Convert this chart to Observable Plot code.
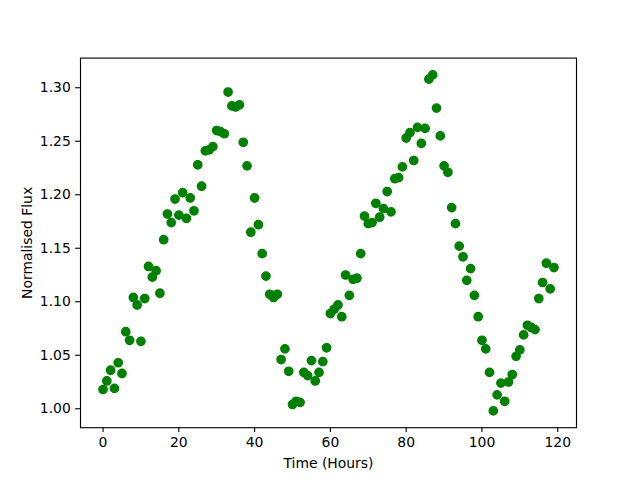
<!DOCTYPE html>
<html>
<head>
<meta charset="utf-8">
<script src="https://cdn.jsdelivr.net/npm/d3@7"></script>
<script src="https://cdn.jsdelivr.net/npm/@observablehq/plot@0.6"></script>
<style>
  html, body { margin: 0; padding: 0; background: white; }
  svg { display: block; }
</style>
</head>
<body>
<div id="chart"></div>
<script>
// Normalised flux, one reading per hour starting at hour 0
const flux = [
  1.018, 1.026, 1.036, 1.019, 1.043, 1.033, 1.072, 1.064, 1.104, 1.097,
  1.063, 1.103, 1.133, 1.123, 1.129, 1.108, 1.158, 1.182, 1.174, 1.196,
  1.181, 1.202, 1.178, 1.197, 1.185, 1.228, 1.208, 1.241, 1.242, 1.245,
  1.260, 1.259, 1.257, 1.296, 1.283, 1.282, 1.284, 1.249, 1.227, 1.165,
  1.197, 1.172, 1.145, 1.124, 1.107, 1.104, 1.107, 1.046, 1.056, 1.035,
  1.004, 1.007, 1.006, 1.034, 1.031, 1.045, 1.026, 1.034, 1.044, 1.057,
  1.089, 1.093, 1.097, 1.086, 1.125, 1.106, 1.121, 1.122, 1.145, 1.180,
  1.173, 1.174, 1.192, 1.179, 1.187, 1.203, 1.184, 1.215, 1.216, 1.226,
  1.253, 1.258, 1.232, 1.263, 1.248, 1.262, 1.308, 1.312, 1.281, 1.255,
  1.227, 1.221, 1.188, 1.173, 1.152, 1.142, 1.120, 1.131, 1.106, 1.086,
  1.064, 1.056, 1.034, 0.998, 1.013, 1.024, 1.007, 1.025, 1.032, 1.049,
  1.055, 1.069, 1.078, 1.076, 1.074, 1.103, 1.118, 1.136, 1.112, 1.132
];
const hours = flux.map((_, i) => i);
const xTicks = [0, 20, 40, 60, 80, 100, 120];
const yTicks = [1.00, 1.05, 1.10, 1.15, 1.20, 1.25, 1.30];
const xLabel = "Time (Hours)";
const yLabel = "Normalised Flux";

const data = hours.map((h, i) => ({hour: h, flux: flux[i]}));

const fs = 13.9;
const chart = Plot.plot({
  width: 640,
  height: 480,
  marginLeft: 80,
  marginRight: 64,
  marginTop: 57.6,
  marginBottom: 52.8,
  style: {fontFamily: "DejaVu Sans", fontSize: fs + "px", background: "white", color: "black"},
  x: {domain: [-5.95, 124.95]},
  y: {domain: [0.9823, 1.3277]},
  marks: [
    Plot.dot(data, {x: "hour", y: "flux", r: 4.17, fill: "#008000", stroke: "#008000", strokeWidth: 1.39}),
    Plot.frame({stroke: "black", strokeWidth: 1.11}),
    Plot.axisX({ticks: xTicks, tickFormat: d => String(d), tickSize: 4.86, tickPadding: 4.86, strokeWidth: 1.11, fontSize: fs, label: null}),
    Plot.axisY({ticks: yTicks, tickFormat: d3.format(".2f"), tickSize: 4.86, tickPadding: 4.86, strokeWidth: 1.11, fontSize: fs, label: null}),
    Plot.text([xLabel], {frameAnchor: "bottom", text: d => d, dy: 36, lineAnchor: "middle", fontSize: fs, fill: "black"}),
    Plot.text([yLabel], {frameAnchor: "left", text: d => d, dx: -53, rotate: -90, textAnchor: "middle", lineAnchor: "middle", fontSize: fs, fill: "black"})
  ]
});
document.getElementById("chart").appendChild(chart);
</script>
</body>
</html>
